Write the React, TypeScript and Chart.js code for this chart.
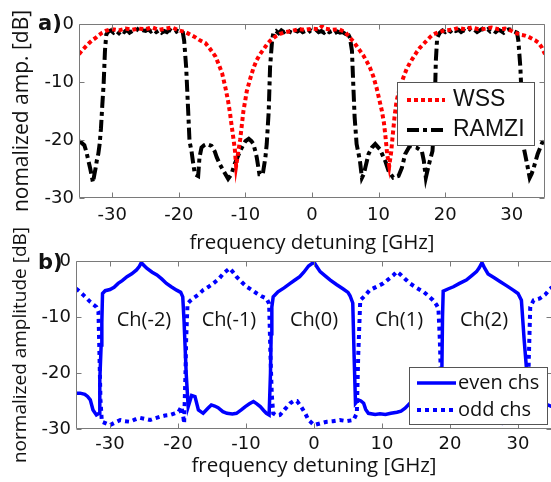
import React, { useEffect, useRef } from "react";
import { Chart, registerables } from "chart.js";

Chart.register(...registerables);

type Pt = [number, number];

// ---------- data ----------
const X_TICKS = [-30, -20, -10, 0, 10, 20, 30];
const Y_TICKS = [0, -10, -20, -30];
const X_MIN = -35;
const X_MAX = 35;
const Y_MIN = -30;
const Y_MAX = 0;

const CH_LABELS = ["Ch(-2)", "Ch(-1)", "Ch(0)", "Ch(1)", "Ch(2)"];
const CH_X = [-25, -12.5, 0, 12.5, 25];
const CH_Y = -10.5;

const WSS: Pt[] = [
  [-35, -5.2], [-34.5, -4.5], [-34, -3.9], [-33.5, -3.3], [-33, -2.8], [-32.5, -2.4], [-32, -1.9],
  [-31.5, -1.5], [-31, -1.2], [-30.5, -1.0], [-30, -0.9], [-29, -1.1], [-28, -0.8], [-27, -1.0],
  [-26, -0.8], [-25, -0.9], [-24, -0.6], [-23, -1.0], [-22, -0.8], [-21, -0.6], [-20, -1.1],
  [-19, -1.4], [-18.5, -1.7], [-18, -2.0], [-17.5, -2.3], [-17, -2.7], [-16.5, -3.0], [-16, -3.3],
  [-15.5, -4.0], [-15, -4.8], [-14.5, -5.6], [-14, -7.0], [-13.5, -8.5], [-13, -11.0], [-12.6, -13.3],
  [-12.3, -15.5], [-12.1, -17.3], [-11.8, -19.8], [-11.6, -21.5], [-11.4, -24.5], [-11.2, -23.0],
  [-11.0, -21.5], [-10.8, -20.0], [-10.5, -17.0], [-10.3, -15.0], [-10.0, -13.0], [-9.8, -11.6],
  [-9.3, -9.5], [-8.8, -7.6], [-8.3, -6.2], [-7.8, -5.2], [-7.3, -4.4], [-6.8, -3.6], [-6.3, -2.9],
  [-5.8, -2.4], [-5.3, -2.0], [-4.8, -1.7], [-4, -1.4], [-3, -1.2], [-2, -0.9], [-1, -1.0], [0, -0.8],
  [1, -0.9], [1.5, -0.4], [2, -0.8], [3, -1.0], [4, -0.9], [5, -1.4], [5.7, -2.4], [6.2, -3.0],
  [6.7, -3.8], [7.2, -4.6], [7.7, -5.4], [8.2, -6.4], [8.7, -7.5], [9.2, -9.0], [9.7, -11.0],
  [10.1, -13.0], [10.5, -15.0], [10.8, -17.0], [11.0, -19.0], [11.3, -22.5], [11.6, -24.5],
  [11.9, -22.0], [12.1, -19.5], [12.4, -16.0], [12.7, -13.3], [13.2, -11.0], [13.7, -9.3],
  [14.2, -7.8], [14.7, -6.7], [15.2, -5.8], [15.7, -4.9], [16.2, -4.1], [16.7, -3.5], [17.2, -2.9],
  [17.7, -2.3], [18.2, -1.8], [19, -1.4], [20, -1.1], [21, -1.0], [22, -0.7], [23, -0.9], [24, -0.6],
  [25, -0.9], [26, -0.8], [27, -0.6], [28, -0.9], [29, -0.8], [30, -1.2], [30.5, -1.5], [31, -1.7],
  [31.5, -1.9], [32, -2.0], [32.5, -2.2], [33, -2.5], [33.5, -2.8], [34, -3.2], [34.5, -4.0], [35, -5.2],
];

const RAMZI: Pt[] = [
  [-35, -20.2], [-34.6, -20.5], [-34.2, -20.9], [-33.9, -22.0], [-33.6, -23.5], [-33.3, -25.0],
  [-32.9, -27.3], [-32.7, -26.0], [-32.5, -24.8], [-32.3, -23.4], [-32.1, -22.4], [-31.9, -20.7],
  [-31.7, -18.0], [-31.5, -14.0], [-31.3, -10.4], [-31.1, -4.6], [-30.9, -1.8], [-30.6, -1.3],
  [-30.2, -1.1], [-29.8, -1.5], [-29.4, -1.2], [-29.0, -1.6], [-28.6, -1.1], [-28.2, -1.4],
  [-27.8, -1.0], [-27.4, -1.5], [-27.0, -1.2], [-26.6, -1.3], [-26.2, -0.9], [-25.8, -1.4],
  [-25.4, -1.1], [-25.0, -1.2], [-24.6, -0.9], [-24.2, -1.3], [-23.8, -1.0], [-23.4, -1.4],
  [-23.0, -1.1], [-22.6, -1.5], [-22.2, -1.2], [-21.8, -1.4], [-21.4, -1.0], [-21.0, -1.3],
  [-20.6, -1.5], [-20.2, -1.2], [-19.8, -1.4], [-19.4, -1.5], [-19.2, -2.9], [-18.9, -7.5],
  [-18.6, -15.0], [-18.4, -20.2], [-18.1, -21.9], [-17.9, -23.6], [-17.6, -25.9], [-17.1, -26.2],
  [-16.9, -23.0], [-16.6, -21.3], [-16.2, -20.9], [-15.8, -20.7], [-15.1, -21.0], [-14.6, -22.0],
  [-14.3, -23.0], [-13.8, -24.3], [-13.3, -25.3], [-12.6, -26.7], [-12.1, -25.9], [-11.6, -24.1],
  [-11.2, -23.0], [-10.8, -21.9], [-10.4, -21.0], [-10.0, -20.2], [-9.5, -19.8], [-9.1, -20.2],
  [-8.8, -20.7], [-8.5, -22.0], [-8.3, -23.0], [-7.9, -25.9], [-7.4, -25.9], [-7.0, -23.0],
  [-6.8, -20.7], [-6.5, -15.0], [-6.3, -7.5], [-6.0, -2.9], [-5.8, -1.5], [-5.4, -1.2], [-5.0, -1.6],
  [-4.6, -1.1], [-4.2, -1.4], [-3.8, -1.0], [-3.4, -1.3], [-3.0, -1.5], [-2.6, -1.1], [-2.2, -1.3],
  [-1.8, -1.0], [-1.4, -1.4], [-1.0, -1.2], [-0.6, -1.5], [-0.2, -1.1], [0.2, -1.3], [0.6, -1.0],
  [1.0, -1.4], [1.4, -1.2], [1.8, -1.5], [2.2, -1.1], [2.6, -1.4], [3.0, -1.2], [3.4, -1.6],
  [3.8, -1.3], [4.2, -1.5], [4.6, -1.4], [5.0, -1.7], [5.2, -1.5], [5.5, -1.9], [5.7, -2.4],
  [6.0, -4.6], [6.2, -10.4], [6.4, -16.0], [6.7, -20.7], [7.0, -22.4], [7.2, -23.6], [7.5, -26.5],
  [7.8, -25.8], [8.0, -24.8], [8.5, -22.4], [9.0, -21.3], [9.5, -20.7], [10.2, -21.6], [11.0, -23.6],
  [11.5, -25.3], [12.2, -26.5], [13.0, -26.2], [13.5, -24.8], [14.0, -22.4], [14.7, -21.0],
  [15.7, -21.3], [16.5, -21.9], [16.8, -23.6], [17.1, -26.5], [17.4, -25.0], [17.7, -23.6],
  [18.1, -21.9], [18.4, -16.0], [18.6, -6.4], [18.8, -2.4], [19.2, -1.5], [19.6, -1.1], [20.0, -1.4],
  [20.4, -1.0], [20.8, -1.3], [21.2, -0.9], [21.6, -1.2], [22.0, -1.0], [22.4, -1.4], [22.8, -1.1],
  [23.2, -1.3], [23.6, -0.8], [24.0, -1.2], [24.4, -1.0], [24.8, -1.4], [25.2, -1.1], [25.6, -0.8],
  [26.0, -1.2], [26.4, -0.9], [26.8, -1.3], [27.2, -1.1], [27.6, -1.4], [28.0, -1.0], [28.4, -1.2],
  [28.8, -1.5], [29.2, -1.1], [29.6, -0.9], [30.0, -1.0], [30.4, -1.3], [30.8, -1.5], [31.0, -2.9],
  [31.3, -7.5], [31.5, -13.0], [31.7, -20.7], [32.0, -22.4], [32.3, -24.1], [32.7, -26.5],
  [33.0, -25.8], [33.3, -24.8], [33.9, -22.4], [34.6, -20.4], [35.0, -20.0],
];

const EVEN: Pt[] = [
  [-35, -23.6], [-34.4, -23.6], [-33.7, -23.8], [-33.3, -24.2], [-32.9, -24.8], [-32.5, -26.6],
  [-32.0, -27.5], [-31.6, -27.2], [-31.5, -21.2], [-31.3, -15], [-31.2, -11], [-31.1, -5.8],
  [-30.7, -5.3], [-30.0, -5.1], [-29.4, -4.7], [-28.8, -4.0], [-28.2, -3.5], [-27.5, -2.8],
  [-26.8, -2.3], [-26.1, -1.6], [-25.7, -1.0], [-25.4, -0.3], [-25.0, -0.8], [-24.6, -1.3],
  [-23.8, -2.0], [-23.1, -2.5], [-22.4, -3.2], [-21.7, -4.0], [-21.0, -4.6], [-20.2, -5.2],
  [-19.6, -5.6], [-19.3, -6.4], [-19.1, -11], [-18.9, -17], [-18.8, -20], [-18.5, -26],
  [-18.2, -24.8], [-18.0, -24.0], [-17.5, -24.2], [-17.0, -26.6], [-16.3, -27.2], [-15.6, -26.3],
  [-15.1, -25.7], [-14.6, -25.9], [-14.1, -26.2], [-13.4, -26.9], [-12.8, -27.2], [-12.0, -27.3],
  [-11.4, -27.2], [-10.7, -26.6], [-10.1, -26.0], [-9.5, -25.5], [-8.9, -25.1], [-8.4, -25.5],
  [-7.9, -26.0], [-7.4, -26.7], [-7.0, -27.2], [-6.6, -27.5], [-6.4, -20], [-6.3, -13], [-6.2, -8.2],
  [-6.0, -6.4], [-5.3, -5.5], [-4.4, -4.8], [-3.5, -4.0], [-2.8, -3.4], [-2.1, -2.8], [-1.5, -2.0],
  [-0.8, -0.9], [0.0, -0.2], [0.4, -1.0], [0.9, -1.9], [1.6, -2.6], [2.4, -3.4], [3.3, -4.2],
  [4.3, -5.0], [5.0, -5.6], [5.3, -6.2], [5.7, -7.5], [5.9, -17], [6.1, -25.4], [6.5, -24.8],
  [6.9, -25.0], [7.3, -25.4], [7.6, -26.5], [8.0, -27.2], [9.0, -27.4], [9.7, -27.3], [10.5, -27.4],
  [11.3, -27.2], [12.2, -27.0], [12.8, -26.8], [13.4, -26.3], [14.1, -25.4], [14.8, -25.2],
  [15.6, -25.6], [16.4, -26.3], [17.2, -26.8], [18.0, -27.2], [18.6, -27.3], [18.8, -20], [18.9, -10],
  [19.0, -5.4], [19.7, -5.0], [20.5, -4.6], [21.4, -4.0], [22.4, -3.4], [23.2, -2.6], [23.9, -1.9],
  [24.3, -1.2], [24.7, -0.3], [25.1, -1.3], [25.6, -2.3], [26.5, -3.0], [27.4, -3.7], [28.3, -4.4],
  [29.3, -5.2], [30.0, -5.8], [30.5, -7.0], [30.9, -14], [31.3, -20], [31.6, -24.5], [32.0, -26.5],
  [32.6, -26.0], [33.4, -25.6], [34.4, -25.7], [35.0, -26.0],
];

const ODD: Pt[] = [
  [-35, -4.9], [-34.4, -5.5], [-33.9, -6.1], [-33.4, -6.7], [-32.9, -7.3], [-32.4, -7.8],
  [-32.0, -8.2], [-31.7, -9.0], [-31.6, -14], [-31.4, -24.8], [-31.2, -28.7], [-30.6, -29.0],
  [-30.0, -29.3], [-29.2, -28.8], [-28.5, -28.4], [-27.8, -28.6], [-27.1, -28.7], [-26.3, -28.3],
  [-25.6, -28.0], [-24.8, -28.2], [-24.1, -28.4], [-23.4, -28.1], [-22.6, -27.8], [-21.9, -27.6],
  [-21.2, -27.5], [-20.5, -27.2], [-19.9, -26.9], [-19.5, -26.0], [-19.2, -28.0], [-19.1, -29.0],
  [-18.9, -20], [-18.8, -14], [-18.6, -7.6], [-18.2, -7.1], [-17.8, -6.7], [-17.0, -6.0],
  [-16.3, -5.2], [-15.5, -4.6], [-14.8, -4.0], [-14.0, -3.2], [-13.3, -2.2], [-12.8, -1.7],
  [-12.4, -1.3], [-11.9, -2.0], [-11.4, -2.8], [-10.6, -3.8], [-9.9, -4.6], [-9.1, -5.2],
  [-8.4, -5.8], [-7.7, -6.3], [-7.0, -6.7], [-6.6, -7.6], [-6.4, -17], [-6.2, -24], [-6.0, -27.2],
  [-5.5, -27.6], [-5.0, -27.5], [-4.3, -26.5], [-3.5, -25.4], [-3.0, -25.0], [-2.5, -25.0],
  [-1.9, -26.0], [-1.3, -27.2], [-0.8, -28.4], [0.0, -29.3], [0.9, -29.0], [1.9, -28.7],
  [2.8, -28.6], [3.8, -28.4], [4.8, -28.6], [5.8, -28.4], [6.3, -27.2], [6.5, -17], [6.8, -7.0],
  [7.4, -6.3], [8.2, -5.2], [9.2, -4.6], [10.2, -4.0], [11.0, -3.2], [11.7, -2.5], [12.2, -1.9],
  [12.7, -2.4], [13.4, -3.2], [14.1, -4.0], [15.1, -4.8], [16.1, -5.5], [16.8, -6.2], [17.5, -7.0],
  [18.0, -7.8], [18.3, -8.5], [18.5, -14], [18.7, -22], [19.0, -28.4], [20.0, -28.8], [21.0, -28.5],
  [22.0, -27.0], [23.0, -25.5], [24.0, -25.0], [25.0, -26.5], [26.0, -28.0], [27.0, -28.8],
  [28.0, -29.0], [29.0, -28.7], [30.0, -28.5], [31.0, -28.4], [31.4, -27.5], [31.6, -17],
  [31.8, -8.2], [32.3, -7.0], [33.2, -6.7], [34.0, -6.0], [34.7, -5.0], [35.0, -4.7],
];

// ---------- styling ----------
const AXIS_COLOR = "#7a7a7a";
const TEXT_COLOR = "#111";
const TICK_LEN = 5;
const TICK_FONT = { family: "DejaVu Sans", size: 18 };
const X_TITLE_FONT = { family: "Open Sans", size: 20.5 };

const toXY = (a: Pt[]) => a.map(([x, y]) => ({ x, y }));

const boxPlugin = {
  id: "matlabBox",
  afterDatasetsDraw(chart: any) {
    const { ctx, chartArea: a, scales } = chart;
    const L = Math.round(a.left) + 0.5;
    const R = Math.round(a.right) - 0.5;
    const T = Math.round(a.top) + 0.5;
    const B = Math.round(a.bottom) - 0.5;
    ctx.save();
    ctx.strokeStyle = AXIS_COLOR;
    ctx.lineWidth = 1;
    ctx.setLineDash([]);
    ctx.beginPath();
    ctx.rect(L, T, R - L, B - T);
    for (const v of X_TICKS) {
      const p = Math.round(scales.x.getPixelForValue(v)) + 0.5;
      ctx.moveTo(p, B);
      ctx.lineTo(p, B - TICK_LEN);
      ctx.moveTo(p, T);
      ctx.lineTo(p, T + TICK_LEN);
    }
    for (const v of Y_TICKS) {
      const p = Math.round(scales.y.getPixelForValue(v)) + 0.5;
      ctx.moveTo(L, p);
      ctx.lineTo(L + TICK_LEN, p);
      ctx.moveTo(R, p);
      ctx.lineTo(R - TICK_LEN, p);
    }
    ctx.stroke();
    ctx.restore();
  },
};

type LegendCfg = {
  box: [number, number, number, number];
  rowY: number[];
  lineX: [number, number];
  textX: number;
  font: string;
};

const makeLegend = (cfg: LegendCfg) => ({
  id: "boxLegend",
  afterDraw(chart: any) {
    const { ctx } = chart;
    const [x, y, w, h] = cfg.box;
    ctx.save();
    ctx.fillStyle = "#fff";
    ctx.fillRect(x, y, w, h);
    ctx.strokeStyle = "#555";
    ctx.lineWidth = 1;
    ctx.strokeRect(x + 0.5, y + 0.5, w, h);
    chart.data.datasets.forEach((ds: any, i: number) => {
      const cy = cfg.rowY[i];
      ctx.save();
      ctx.strokeStyle = ds.borderColor;
      ctx.lineWidth = ds.borderWidth;
      ctx.setLineDash(ds.borderDash || []);
      ctx.lineCap = "butt";
      ctx.beginPath();
      ctx.moveTo(cfg.lineX[0], cy);
      ctx.lineTo(cfg.lineX[1], cy);
      ctx.stroke();
      ctx.restore();
      ctx.fillStyle = TEXT_COLOR;
      ctx.font = cfg.font;
      ctx.textBaseline = "middle";
      ctx.textAlign = "left";
      ctx.fillText(ds.label, cfg.textX, cy);
    });
    ctx.restore();
  },
});

const chLabelPlugin = {
  id: "chLabels",
  afterDatasetsDraw(chart: any) {
    const { ctx, scales } = chart;
    ctx.save();
    ctx.fillStyle = TEXT_COLOR;
    ctx.font = "20px 'Open Sans'";
    ctx.textAlign = "center";
    ctx.textBaseline = "middle";
    CH_LABELS.forEach((t, i) => {
      ctx.fillText(t, scales.x.getPixelForValue(CH_X[i]), scales.y.getPixelForValue(CH_Y));
    });
    ctx.restore();
  },
};

type PanelCfg = {
  yTitle: string;
  yTitleSize: number;
  yAxisWidth: number;
  xAxisHeight: number;
  padding: { top: number; right: number; left: number; bottom: number };
  xTickPad: number;
  xTitlePad: number;
};

const makeOptions = (p: PanelCfg): any => ({
  animation: false,
  responsive: false,
  maintainAspectRatio: false,
  layout: { padding: p.padding },
  plugins: { legend: { display: false }, tooltip: { enabled: false }, title: { display: false } },
  elements: { point: { radius: 0 }, line: { tension: 0 } },
  scales: {
    x: {
      type: "linear",
      min: X_MIN,
      max: X_MAX,
      afterBuildTicks: (s: any) => {
        s.ticks = X_TICKS.map((v) => ({ value: v }));
      },
      afterFit: (s: any) => {
        s.height = p.xAxisHeight;
        s.paddingLeft = 0;
        s.paddingRight = 0;
      },
      grid: { display: false, drawTicks: false },
      border: { display: false },
      ticks: { padding: p.xTickPad, font: TICK_FONT, color: TEXT_COLOR, maxRotation: 0, autoSkip: false },
      title: {
        display: true,
        text: "frequency detuning [GHz]",
        font: X_TITLE_FONT,
        color: TEXT_COLOR,
        padding: { top: 0, bottom: p.xTitlePad },
      },
    },
    y: {
      type: "linear",
      min: Y_MIN,
      max: Y_MAX,
      afterBuildTicks: (s: any) => {
        s.ticks = Y_TICKS.map((v) => ({ value: v }));
      },
      afterFit: (s: any) => {
        s.width = p.yAxisWidth;
        s.paddingTop = 0;
        s.paddingBottom = 0;
      },
      grid: { display: false, drawTicks: false },
      border: { display: false },
      ticks: { padding: 5, font: TICK_FONT, color: TEXT_COLOR, autoSkip: false },
      title: {
        display: true,
        text: p.yTitle,
        font: { family: "Open Sans", size: p.yTitleSize },
        color: TEXT_COLOR,
        padding: { top: 9, bottom: 0 },
      },
    },
  },
});

export default function App() {
  const topRef = useRef<HTMLCanvasElement | null>(null);
  const botRef = useRef<HTMLCanvasElement | null>(null);

  useEffect(() => {
    if (!topRef.current || !botRef.current) return;
    const top = new Chart(topRef.current, {
      type: "line",
      data: {
        datasets: [
          {
            label: "WSS",
            data: toXY(WSS),
            borderColor: "#ff0000",
            borderWidth: 4,
            borderDash: [4, 3],
            borderCapStyle: "butt",
            fill: false,
          },
          {
            label: "RAMZI",
            data: toXY(RAMZI),
            borderColor: "#000000",
            borderWidth: 4,
            borderDash: [12, 4, 4, 4],
            borderCapStyle: "butt",
            fill: false,
          },
        ],
      },
      options: makeOptions({
        yTitle: "nomalized amp. [dB]",
        yTitleSize: 21,
        yAxisWidth: 79,
        xAxisHeight: 58,
        padding: { top: 24, right: 6, left: 0, bottom: 0 },
        xTickPad: 7,
        xTitlePad: 1,
      }),
      plugins: [
        boxPlugin,
        makeLegend({
          box: [397, 82, 137, 63],
          rowY: [100, 130],
          lineX: [407, 445],
          textX: 453,
          font: "23px 'Liberation Sans'",
        }),
      ],
    } as any);

    const bot = new Chart(botRef.current, {
      type: "line",
      data: {
        datasets: [
          {
            label: "even chs",
            data: toXY(EVEN),
            borderColor: "#0000ff",
            borderWidth: 3.5,
            borderCapStyle: "butt",
            fill: false,
          },
          {
            label: "odd chs",
            data: toXY(ODD),
            borderColor: "#0000ff",
            borderWidth: 4,
            borderDash: [4, 4],
            borderCapStyle: "butt",
            fill: false,
          },
        ],
      },
      options: makeOptions({
        yTitle: "normalized amplitude [dB]",
        yTitleSize: 19,
        yAxisWidth: 76,
        xAxisHeight: 53,
        padding: { top: 45, right: 4, left: 0, bottom: 0 },
        xTickPad: 5,
        xTitlePad: 4,
      }),
      plugins: [
        boxPlugin,
        chLabelPlugin,
        makeLegend({
          box: [409, 151, 138, 57],
          rowY: [167, 194],
          lineX: [417, 456],
          textX: 458,
          font: "20px 'Open Sans'",
        }),
      ],
    } as any);

    return () => {
      top.destroy();
      bot.destroy();
    };
  }, []);

  const panelLabel: React.CSSProperties = {
    position: "absolute",
    left: 38,
    font: "bold 21px 'DejaVu Sans'",
    lineHeight: "24px",
    color: TEXT_COLOR,
    margin: 0,
  };

  return (
    <div
      style={{
        position: "absolute",
        left: 0,
        top: 0,
        width: 551,
        height: 482,
        overflow: "hidden",
        background: "#fff",
      }}
    >
      <canvas ref={topRef} width={551} height={256} style={{ position: "absolute", left: 0, top: 0 }} />
      <canvas ref={botRef} width={556} height={266} style={{ position: "absolute", left: 0, top: 216 }} />
      <div style={{ ...panelLabel, top: 11 }}>a)</div>
      <div style={{ ...panelLabel, top: 250 }}>b)</div>
    </div>
  );
}
